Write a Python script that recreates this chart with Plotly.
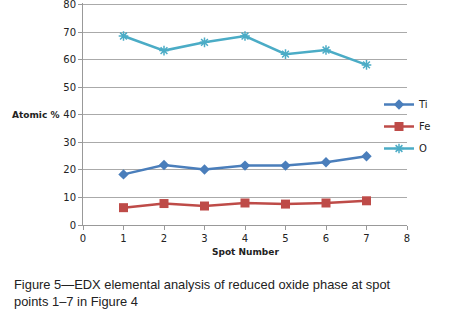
import plotly.graph_objects as go

spots = [1, 2, 3, 4, 5, 6, 7]
ti = [18.4, 21.8, 20.2, 21.6, 21.6, 22.8, 25.0]
fe = [6.3, 7.8, 6.9, 8.0, 7.6, 8.0, 8.8]
o = [68.7, 63.4, 66.4, 68.7, 62.1, 63.6, 58.2]
x_ticks = [0, 1, 2, 3, 4, 5, 6, 7, 8]
y_ticks = [0, 10, 20, 30, 40, 50, 60, 70, 80]

W, H = 451, 318
L, R, T, B = 83, 407, 3, 225
fig = go.Figure()
fig.add_trace(go.Scatter(x=spots, y=ti, name="Ti", mode="lines+markers", legendgroup="ti",
                         line=dict(color="#4A7EBB", width=2.5),
                         marker=dict(symbol="diamond", size=8, color="#4A7EBB")))
fig.add_trace(go.Scatter(x=spots, y=fe, name="Fe", mode="lines+markers", legendgroup="fe",
                         line=dict(color="#BE4B48", width=2.5),
                         marker=dict(symbol="square", size=9, color="#BE4B48")))
fig.add_trace(go.Scatter(x=spots, y=o, name="O", mode="lines+markers", legendgroup="o",
                         line=dict(color="#4BACC6", width=2.5),
                         marker=dict(symbol="asterisk-open", size=8,
                                     line=dict(color="#4BACC6", width=1.5))))

fig.update_layout(
    width=W, height=H,
    margin=dict(l=L, r=W - R, t=T, b=H - B, autoexpand=False),
    paper_bgcolor="white", plot_bgcolor="white",
    font=dict(family="DejaVu Sans", size=10, color="#222"),
    showlegend=True,
    legend=dict(x=(379 - L) / (R - L), xanchor="left",
                y=(B - 90) / (B - T), yanchor="top",
                font=dict(size=10), tracegroupgap=3, itemwidth=30,
                bgcolor="rgba(0,0,0,0)"),
    xaxis=dict(range=[0, 8], tickvals=x_ticks, showgrid=False, zeroline=False,
               showline=True, linecolor="#999", linewidth=1,
               ticks="outside", ticklen=4, tickcolor="#999",
               tickfont=dict(size=10), automargin=False),
    yaxis=dict(range=[0, 80.7], tickvals=y_ticks, showgrid=True, gridcolor="#aaa",
               gridwidth=1, zeroline=False, showline=True, linecolor="#999",
               linewidth=1, ticks="outside", ticklen=4, tickcolor="#999",
               tickfont=dict(size=10), automargin=False, ticklabeloverflow="allow"),
)

fig.add_annotation(text="<b>Spot Number</b>", xref="paper", yref="paper",
                   x=0.5, y=(B - 252) / (B - T), xanchor="center", yanchor="middle",
                   showarrow=False, font=dict(size=9, color="#222"))
fig.add_annotation(text="<b>Atomic %</b>", xref="paper", yref="y",
                   x=(35 - L) / (R - L), y=40, xanchor="center", yanchor="middle",
                   showarrow=False, font=dict(size=9, color="#222"))
fig.add_annotation(text="Figure 5—EDX elemental analysis of reduced oxide phase at spot<br>points 1–7 in Figure 4",
                   xref="paper", yref="paper", x=(12 - L) / (R - L), y=(B - 275) / (B - T),
                   xanchor="left", yanchor="top", align="left", showarrow=False,
                   font=dict(family="Liberation Sans", size=12.9, color="#222"))

fig.write_html("out.html", config={"displayModeBar": False},
               post_script="document.body.style.margin='0';document.body.style.overflow='hidden';")
